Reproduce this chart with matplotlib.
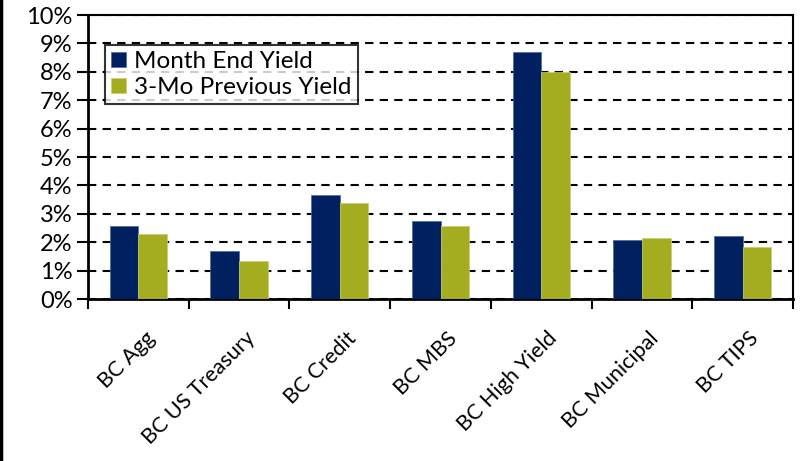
import matplotlib
matplotlib.use("Agg")
import matplotlib.pyplot as plt
import matplotlib.lines as mlines
import matplotlib.transforms as mtransforms
from matplotlib.ticker import FuncFormatter
import numpy as np

categories = ["BC Agg", "BC US Treasury", "BC Credit", "BC MBS",
              "BC High Yield", "BC Municipal", "BC TIPS"]
month_end = [2.57, 1.70, 3.65, 2.75, 8.71, 2.08, 2.22]
prev_3mo = [2.29, 1.34, 3.39, 2.58, 8.00, 2.15, 1.83]

navy = "#002060"
olive = "#A3AD1F"

plt.rcParams["font.family"] = ["Lato", "DejaVu Sans"]

fig = plt.figure(figsize=(8.01, 4.61), dpi=100)
ax = fig.add_axes([88/801, 1 - 299/461, (793-88)/801, (299-15)/461])

x = np.arange(len(categories))
w = 0.285
ax.bar(x - w/2, month_end, w, color=navy, edgecolor="#4a6a9a", linewidth=0.5,
       label="Month End Yield", zorder=3)
ax.bar(x + w/2, prev_3mo, w, color=olive, edgecolor="#c8cf70", linewidth=0.5,
       label="3-Mo Previous Yield", zorder=3)

ax.set_xlim(-0.5, len(categories) - 0.5)
ax.set_ylim(0, 10)
ax.set_yticks(np.arange(0, 11, 1))
ax.yaxis.set_major_formatter(FuncFormatter(lambda v, p: "%d%%" % v))
ax.yaxis.grid(True, color="black", linestyle=(0, (4, 3)), linewidth=1.5, zorder=0)

# boundaries get ticks, centres get the labels
ax.set_xticks(np.arange(-0.5, len(categories), 1))
ax.set_xticklabels([])
ax.set_xticks(x, minor=True)
ax.set_xticklabels(categories, minor=True, rotation=45, ha="right",
                   va="top", rotation_mode="anchor", fontsize=15.5)
ax.tick_params(axis="x", which="minor", length=0, pad=21)
ax.tick_params(axis="x", which="major", length=7, width=1.5, direction="out")
ax.tick_params(axis="y", length=8, width=1.5, direction="out", labelsize=17, pad=3)

shift = mtransforms.ScaledTranslation(6/100, 0, fig.dpi_scale_trans)
for lab in ax.get_xticklabels(minor=True):
    lab.set_transform(lab.get_transform() + shift)

for s in ax.spines.values():
    s.set_linewidth(1.5)
    s.set_color("black")
ax.spines["bottom"].set_linewidth(2)
ax.spines["left"].set_linewidth(2)

leg = ax.legend(loc="upper left", bbox_to_anchor=(17/705, 1 - 30/284),
                fontsize=17.5, frameon=True, fancybox=False, edgecolor="black",
                handlelength=0.6, handleheight=0.6, handletextpad=0.35,
                borderpad=0.25, labelspacing=0.2, borderaxespad=0)
leg.get_frame().set_linewidth(1.5)

# black frame line on left edge of the image
fig.add_artist(mlines.Line2D([0.0015, 0.0015], [0, 1], color="black",
                             linewidth=2.5, transform=fig.transFigure))

fig.savefig("out.png", dpi=100)
